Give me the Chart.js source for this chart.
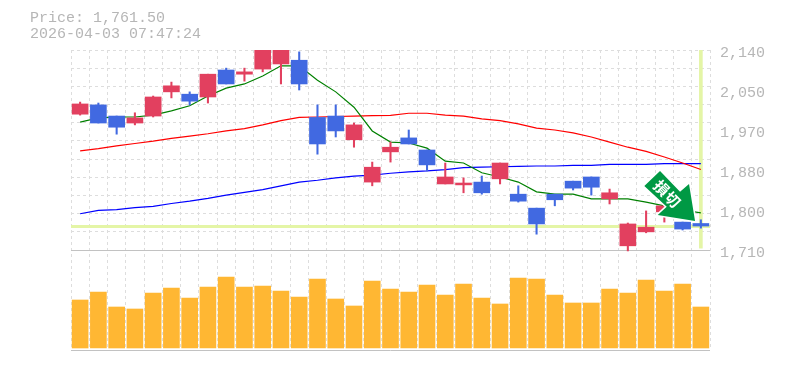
<!DOCTYPE html>
<html>
<head>
<meta charset="utf-8">
<style>
html,body{margin:0;padding:0;background:#fff;overflow:hidden}
#wrap{position:relative;width:785px;height:370px}
#head{position:absolute;left:30px;top:11px;font:15px/15.5px "Liberation Mono",monospace;color:#b6b6b6;white-space:pre}
canvas{display:block}
</style>
<script src="https://cdn.jsdelivr.net/npm/chart.js@4"></script>
</head>
<body>
<div id="wrap">
<div id="head">Price: 1,761.50
2026-04-03 07:47:24</div>
<canvas id="c" width="785" height="370"></canvas>
</div>
<script>
const dates = ['2/12','2/13','2/16','2/17','2/18','2/19','2/20','2/24','2/25','2/26','2/27','3/2','3/3','3/4','3/5','3/6','3/9','3/10','3/11','3/12','3/13','3/16','3/17','3/18','3/19','3/23','3/24','3/25','3/26','3/27','3/30','3/31','4/1','4/2','4/3'];
const opens  = [2002,2022,1998,1983,1998,2050,2045,2039,2097,2088,2099,2110,2118,1995,1998,1947,1856,1921,1951,1925,1852,1850,1856,1863,1830,1800,1830,1858,1867,1820,1719,1749,1792,1770,1767];
const closes = [2024,1983,1974,1994,2039,2063,2030,2088,2067,2093,2146,2146,2067,1938,1966,1979,1888,1931,1938,1893,1867,1854,1833,1897,1815,1766,1818,1843,1845,1833,1766,1759,1805,1755,1761.5];
const highs  = [2028,2026,1998,2005,2041,2071,2050,2088,2101,2101,2146,2146,2136,2022,2022,1983,1899,1942,1968,1925,1897,1865,1869,1897,1848,1800,1830,1858,1867,1841,1768,1794,1809,1770,1775];
const lows   = [2000,1983,1959,1979,1996,2037,2022,2026,2067,2073,2093,2067,2054,1916,1953,1931,1848,1899,1938,1880,1852,1833,1830,1852,1813,1744,1805,1839,1828,1809,1708,1747,1770,1753,1757];
const maShort = [1985,1994,1996,1996,2000,2009,2020,2041,2058,2067,2084,2106,2106,2075,2050,2017,1966,1942,1940,1929,1901,1897,1876,1867,1856,1835,1830,1830,1820,1820,1820,1813,1805,1796,1790];
const maMid   = [1923,1928,1934,1939,1944,1950,1955,1960,1966,1971,1979,1988,1995,1996,1997,1998,1999,1999.6,2004,2004,2000,1998,1992,1988,1981,1972,1968,1962,1953,1942,1931,1922,1910,1897,1883];
const maLong  = [1788,1795,1797,1801,1804,1810,1815,1821,1828,1834,1840,1848,1856,1860,1865,1869,1871,1875,1878,1880,1883,1887,1888,1889,1890,1890.6,1890.6,1892,1892,1894,1894,1894,1895.5,1895.5,1895.5];
const volumes = [48,56,41,39,55,60,50,61,71,61,62,57,51,69,49,42,67,59,56,63,53,64,50,44,70,69,53,45,45,59,55,68,57,64,41];
const priceTicks  = [2140,2054,1968,1882,1796,1710];
const priceLabels = ['2,140','2,050','1,970','1,880','1,800','1,710'];
const lastPrice = 1761.5;
const priceMax = 2140, priceFloor = 1710;

const RED='#e2405f', BLUE='#4169e1', YEL='#e4f5a6', FRAME='#c2c2c2', GRID='#dddddd';
const dirColor = closes.map((c,i)=> c>=opens[i] ? RED : BLUE);
const pxUnits = 2.15;
const priceMin = priceMax - 300*pxUnits;

function gridTicks(){const t=[];for(let i=0;i<11;i++)t.push({value:priceMax-(priceMax-priceFloor)*i/11});return t;}

const arrowPlugin = {
  id:'arrow',
  afterDatasetsDraw(chart){
    const x=chart.scales.x.getPixelForValue(33.68), y=chart.scales.y.getPixelForValue(1772.4), g=chart.ctx;
    const shape=[[0,0],[-6,-37],[-15,-29.3],[-35,-50],[-50.7,-35],[-28.3,-14.3],[-37.3,-6]];
    g.save();
    g.beginPath();
    shape.forEach((p,i)=> i? g.lineTo(x+p[0],y+p[1]) : g.moveTo(x+p[0],y+p[1]));
    g.closePath();
    g.lineWidth=3; g.strokeStyle='#fff'; g.lineJoin='miter'; g.stroke();
    g.fillStyle='#009944'; g.fill();
    g.fillStyle='#fff'; g.font='bold 15px "Noto Sans CJK JP"'; g.textAlign='center'; g.textBaseline='middle';
    [['損',-33.5,-33],['切',-22.5,-21.5]].forEach(([t,dx,dy])=>{
      g.save(); g.translate(x+dx,y+dy); g.rotate(Math.PI/4); g.fillText(t,0,0); g.restore();
    });
    g.restore();
  }
};

new Chart(document.getElementById('c'),{
  type:'bar',
  plugins:[arrowPlugin],
  data:{
    labels:dates,
    datasets:[
      {type:'bar',label:'Volume',yAxisID:'yVol',data:volumes,backgroundColor:'#ffb733',barThickness:16,grouped:false,order:9},
      {type:'bar',label:'Marker',yAxisID:'y',data:dates.map((d,i)=> i===dates.length-1 ? [priceFloor+4,priceMax+10] : null),backgroundColor:YEL,barThickness:3,grouped:false,order:8},
      {type:'line',label:'MA long',yAxisID:'y',data:maLong,borderColor:'#0000ff',borderWidth:1.2,pointRadius:0,tension:0,order:7},
      {type:'line',label:'MA mid',yAxisID:'y',data:maMid,borderColor:'#ff0000',borderWidth:1.2,pointRadius:0,tension:0,order:6},
      {type:'line',label:'MA short',yAxisID:'y',data:maShort,borderColor:'#008000',borderWidth:1.2,pointRadius:0,tension:0,order:5},
      {type:'bar',label:'Wick',yAxisID:'y',data:highs.map((h,i)=>[lows[i],h]),backgroundColor:dirColor,barThickness:1.4,grouped:false,order:4},
      {type:'bar',label:'Body',yAxisID:'y',data:opens.map((o,i)=>[o,closes[i]]),backgroundColor:dirColor,barThickness:16,grouped:false,order:3}
    ]
  },
  options:{
    responsive:false,animation:false,
    layout:{padding:{left:71,top:50,right:0,bottom:20}},
    plugins:{legend:{display:false},tooltip:{enabled:false}},
    scales:{
      x:{
        type:'category',offset:true,position:'bottom',
        afterFit(s){s.height=0;},
        grid:{offset:true,color:GRID,lineWidth:1,drawTicks:false},
        border:{display:false,dash:[3,3]},
        ticks:{autoSkip:false,maxRotation:0,minRotation:0,padding:-94,color:'#b6b6b6',font:{family:'"Liberation Mono"',size:10},
          callback(v,i){return (i-4)%5===0 ? dates[i] : '';}}
      },
      y:{
        position:'left',min:priceMin,max:priceMax,
        afterFit(s){s.width=0;},afterBuildTicks(s){s.ticks=gridTicks();},
        ticks:{display:false},
        grid:{color:GRID,lineWidth:1,drawTicks:false},
        border:{display:false,dash:[3,3]}
      },
      yFrame:{
        position:'left',min:priceMin,max:priceMax,
        afterFit(s){s.width=0;},afterBuildTicks(s){s.ticks=[{value:priceMin},{value:priceFloor},{value:lastPrice}];},
        ticks:{display:false},
        grid:{drawTicks:false,z:0,
          color(c){return c.tick && c.tick.value===lastPrice ? YEL : FRAME;},
          lineWidth(c){return c.tick && c.tick.value===lastPrice ? 3 : 1;}},
        border:{display:false}
      },
      yLabels:{
        position:'right',min:priceMin+3.5*pxUnits,max:priceMax+3.5*pxUnits,
        afterFit(s){s.width=75;},afterBuildTicks(s){s.ticks=priceTicks.map(v=>({value:v}));},
        ticks:{padding:10,color:'#b6b6b6',font:{family:'"Liberation Mono"',size:15},callback(v,i){return priceLabels[i];}},
        grid:{display:false,drawTicks:false},
        border:{display:false}
      },
      yRight:{
        position:'right',min:0,max:1,afterFit(s){s.width=0;},
        ticks:{display:false},grid:{display:false,drawTicks:false},
        border:{display:true,color:FRAME,width:1}
      },
      yVol:{display:false,min:-2,max:298}
    }
  }
});
</script>
</body>
</html>
